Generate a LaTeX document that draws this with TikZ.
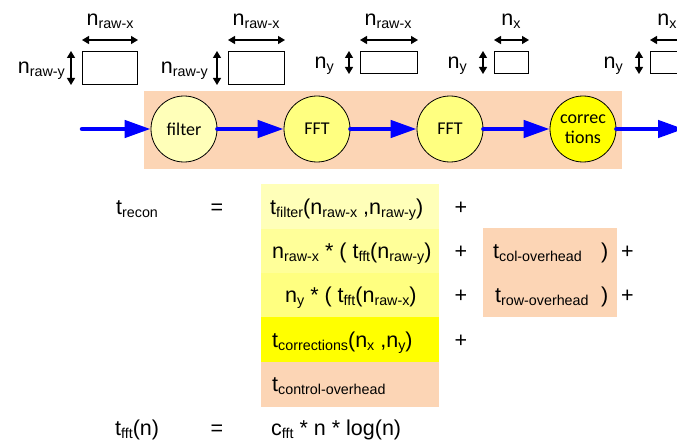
\documentclass[tikz,border=0pt]{standalone}
\usepackage{fontspec}
\setmainfont{Liberation Sans}
\newfontfamily\calfont{Carlito}
\usetikzlibrary{arrows.meta,calc}
\definecolor{peach}{HTML}{FCD5B5}
\definecolor{paley}{HTML}{FFFFB9}
\definecolor{midy}{HTML}{FFFF99}
\definecolor{medy}{HTML}{FFFF80}
\definecolor{fully}{HTML}{FFFF00}
\newcommand{\sbs}[1]{\raisebox{-3pt}{\fontsize{14.3}{15}\selectfont #1}}
\begin{document}
\begin{tikzpicture}[x=1pt,y=-1pt,
  font=\fontsize{21.5}{24}\selectfont,
  proc/.style={circle,draw=black,line width=0.8pt,minimum size=66pt,inner sep=0pt,
    font=\calfont\fontsize{18}{22}\selectfont,align=center},
  flow/.style={draw=blue,line width=4.5pt,line cap=round,
    -{Triangle[length=26pt,width=17pt]}},
  databox/.style={draw=black,line width=1pt,inner sep=0pt,anchor=north west},
  dim/.style={line width=1.2pt,{Triangle[length=7pt,width=8pt]}-{Triangle[length=7pt,width=8pt]}},
  lbl/.style={inner sep=0pt},
  cell/.style={inner sep=0pt,anchor=north west,minimum width=178pt}
]
\useasboundingbox (0,0) rectangle (677,441);

% band
\node[fill=peach,inner sep=0pt,anchor=north west,minimum width=478pt,minimum height=78pt] (band) at (144,91) {};

% processes
\node[proc,fill=paley] (filt) at (184,129) {filter};
\node[proc,fill=medy] (fft1) at (317,129) {FFT};
\node[proc,fill=medy] (fft2) at (450,129) {FFT};
\node[proc,fill=fully] (corr) at (583,129) {correc\\[-2pt]tions};
\coordinate (in) at (82,129);
\coordinate (out) at (684,129);
\draw[flow] (in) -- (filt.west);
\draw[flow] (filt.east) -- (fft1.west);
\draw[flow] (fft1.east) -- (fft2.west);
\draw[flow] (fft2.east) -- (corr.west);
\draw[flow] (corr.east) -- (out);

% data boxes
\node[databox,minimum width=55pt,minimum height=33pt] (b1) at (82,51) {};
\node[databox,minimum width=56pt,minimum height=33pt] (b2) at (228,51) {};
\node[databox,minimum width=57pt,minimum height=22pt] (b3) at (360,51) {};
\node[databox,minimum width=34pt,minimum height=22pt] (b4) at (494,51) {};
\node[databox,minimum width=34pt,minimum height=22pt] (b5) at (650,51) {};
\foreach \b in {b1,b2,b3,b4,b5}{
  \draw[dim] ($(\b.north west)+(0,-11)$) -- ($(\b.north east)+(0,-11)$);
  \draw[dim] ($(\b.north west)+(-11,0)$) -- ($(\b.south west)+(-11,0)$);
}
\node[lbl,anchor=base] (w1) at (110,26) {n\sbs{raw-x}};
\node[lbl,anchor=base] (w2) at (256,26) {n\sbs{raw-x}};
\node[lbl,anchor=base] (w3) at (388,26) {n\sbs{raw-x}};
\node[lbl,anchor=base] (w4) at (511,26) {n\sbs{x}};
\node[lbl,anchor=base] (w5) at (667,26) {n\sbs{x}};
\node[lbl,anchor=base east] (h1) at (65,74) {n\sbs{raw-y}};
\node[lbl,anchor=base east] (h2) at (208,74) {n\sbs{raw-y}};
\node[lbl,anchor=base east] (h3) at (334,69) {n\sbs{y}};
\node[lbl,anchor=base east] (h4) at (467,69) {n\sbs{y}};
\node[lbl,anchor=base east] (h5) at (623,69) {n\sbs{y}};

% equation cells
\node[cell,fill=paley,minimum height=45pt] (r1) at (261,184) {};
\node[cell,fill=midy,minimum height=44pt] (r2) at (261,229) {};
\node[cell,fill=medy,minimum height=44pt] (r3) at (261,273) {};
\node[cell,fill=fully,minimum height=45pt] (r4) at (261,317) {};
\node[cell,fill=peach,minimum height=45pt] (r5) at (261,362) {};
\node[inner sep=0pt,anchor=north west,fill=peach,minimum width=134pt,minimum height=89pt] (ov) at (483,228) {};

\node[lbl,anchor=base west] (trecon) at (116,214) {t\sbs{recon}};
\node[lbl,anchor=base] (eq1) at (217,214) {=};
\node[lbl,anchor=base west] (e1) at (270,214) {t\sbs{filter}(n\sbs{raw-x} ,n\sbs{raw-y})};
\node[lbl,anchor=base] (p1) at (461,214) {+};
\node[lbl,anchor=base west] (e2) at (272,258) {n\sbs{raw-x} * ( t\sbs{fft}(n\sbs{raw-y})};
\node[lbl,anchor=base] (p2) at (461,258) {+};
\node[lbl,anchor=base west] (o2) at (493,258) {t\sbs{col-overhead}};
\node[lbl,anchor=base west] (c2) at (601,258) {)};
\node[lbl,anchor=base west] (q2) at (621,258) {+};
\node[lbl,anchor=base west] (e3) at (285,302) {n\sbs{y} * ( t\sbs{fft}(n\sbs{raw-x})};
\node[lbl,anchor=base] (p3) at (461,302) {+};
\node[lbl,anchor=base west] (o3) at (495,302) {t\sbs{row-overhead}};
\node[lbl,anchor=base west] (c3) at (601,302) {)};
\node[lbl,anchor=base west] (q3) at (621,302) {+};
\node[lbl,anchor=base west] (e4) at (272,347) {t\sbs{corrections}(n\sbs{x} ,n\sbs{y})};
\node[lbl,anchor=base] (p4) at (461,347) {+};
\node[lbl,anchor=base west] (e5) at (272,391) {t\sbs{control-overhead}};

\node[lbl,anchor=base west] (tfft) at (115,435) {t\sbs{fft}(n)};
\node[lbl,anchor=base] (eq2) at (217,435) {=};
\node[lbl,anchor=base west] (cfft) at (271,435) {c\sbs{fft} * n * log(n)};
\end{tikzpicture}
\end{document}
